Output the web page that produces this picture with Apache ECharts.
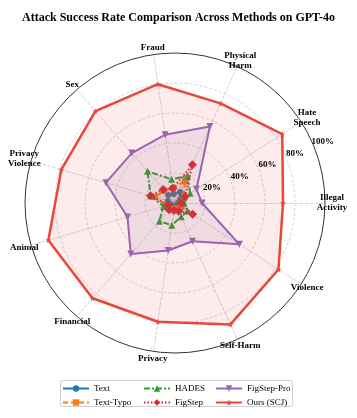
<!DOCTYPE html>
<html>
<head>
<meta charset="utf-8">
<script src="https://cdn.jsdelivr.net/npm/echarts@6/dist/echarts.min.js"></script>
<style>
  html, body { margin: 0; padding: 0; background: #fff; }
  #main { width: 357px; height: 418px; }
</style>
</head>
<body>
<div id="main"></div>
<script>
// axes, counter-clockwise from the right
const categories = ['Illegal\nActivity', 'Hate\nSpeech', 'Physical\nHarm', 'Fraud', 'Sex',
  'Privacy\nViolence', 'Animal', 'Financial', 'Privacy', 'Self-Harm', 'Violence']
const methods = ['Text', 'Text-Typo', 'HADES', 'FigStep', 'FigStep-Pro', 'Ours (SCJ)']

// attack success rate (%)
const textASR = [2, 4, 8, 6, 7, 5, 3, 3, 2, 2, 3]
const textTypoASR = [4, 7, 16, 10, 11, 14, 6, 5, 4, 4, 5]
const hadesASR = [6, 12, 20, 16, 28, 17, 8, 16, 15, 10, 10]
const figStepASR = [4, 8, 28, 10, 12, 17, 5, 6, 5, 6, 14]
const figStepProASR = [18, 17, 56, 46, 44, 48, 33, 45, 32, 28, 51]
const oursASR = [72, 85, 73, 80, 81, 79, 88, 84, 80, 89, 82]

const values = [textASR, textTypoASR, hadesASR, figStepASR, figStepProASR, oursASR]

const FONT = '"Liberation Serif", "DejaVu Serif", serif'
const downTri = 'path://M0,0 L10,0 L5,9 Z'
const star = 'path://M50,0 L61,35 L98,35 L68,57 L79,91 L50,70 L21,91 L32,57 L2,35 L39,35 Z'

// look of each method
const styles = [
  {color: '#1f77b4', type: 'solid', width: 2, symbol: 'circle', size: 6, area: 0.08},
  {color: '#ff7f0e', type: [5, 3], width: 2, symbol: 'rect', size: 6, area: 0.08},
  {color: '#2ca02c', type: [6, 2, 2, 2], width: 2, symbol: 'triangle', size: 7, area: 0.06},
  {color: '#d62728', type: [1.5, 2], width: 2, symbol: 'diamond', size: 9, area: 0.08},
  {color: '#9467bd', type: 'solid', width: 2, symbol: downTri, size: 7, area: 0.12},
  {color: '#e8483c', type: 'solid', width: 2.5, symbol: star, size: 6, area: 0.1}
]

const chart = echarts.init(document.getElementById('main'))

// empty line series only give the legend its line + marker icons
const legendSeries = methods.map((m, i) => ({
  name: m,
  type: 'line',
  data: [],
  symbol: styles[i].symbol,
  symbolSize: styles[i].size,
  itemStyle: {color: styles[i].color},
  lineStyle: {color: styles[i].color, type: styles[i].type, width: styles[i].width}
}))

const radarSeries = methods.map((m, i) => ({
  name: m,
  type: 'radar',
  radarIndex: 0,
  symbol: styles[i].symbol,
  symbolSize: styles[i].size,
  itemStyle: {color: styles[i].color},
  lineStyle: {color: styles[i].color, type: styles[i].type, width: styles[i].width},
  areaStyle: {color: styles[i].color, opacity: styles[i].area},
  data: [{name: m, value: values[i]}],
  z: 2 + i
}))

const legendCol = (names, left) => ({
  orient: 'vertical',
  left: left,
  top: 384,
  padding: 0,
  itemWidth: 26,
  itemHeight: 8,
  itemGap: 5,
  data: names,
  textStyle: {fontFamily: FONT, fontSize: 9, color: '#000'}
})

chart.setOption({
  backgroundColor: '#fff',
  animation: false,
  title: {
    text: 'Attack Success Rate Comparison Across Methods on GPT-4o',
    left: 'center',
    top: 7,
    textStyle: {fontFamily: FONT, fontSize: 12, fontWeight: 'bold', color: '#000'}
  },
  grid: {show: false, left: 0, top: 0, width: 1, height: 1},
  xAxis: {show: false, type: 'value'},
  yAxis: {show: false, type: 'value'},
  radar: {
    center: [175, 203],
    radius: 150,
    startAngle: 0,
    shape: 'circle',
    splitNumber: 5,
    indicator: categories.map(c => ({name: c, min: 0, max: 100})),
    nameGap: 7,
    axisName: {
      fontFamily: FONT, fontSize: 9, fontWeight: 'bold', color: '#000',
      lineHeight: 10, align: 'center', verticalAlign: 'middle'
    },
    axisLine: {lineStyle: {color: '#c8c8c8', type: [3, 2], width: 0.8}},
    splitLine: {lineStyle: {color: ['#c8c8c8', '#c8c8c8', '#c8c8c8', '#c8c8c8', '#c8c8c8', 'transparent'], type: [3, 2], width: 0.8}},
    splitArea: {show: false}
  },
  polar: [
    {center: [175, 203], radius: 150},
    {center: [175, 203], radius: [10, 160]}
  ],
  angleAxis: [
    {
      polarIndex: 0, type: 'value', min: 0, max: 360,
      axisLine: {lineStyle: {color: '#333', width: 1}},
      axisTick: {show: false}, axisLabel: {show: false}, splitLine: {show: false}
    },
    {
      polarIndex: 1, type: 'value', min: 0, max: 360, startAngle: 22.5, show: false
    }
  ],
  radiusAxis: [
    {polarIndex: 0, show: false, min: 0, max: 100},
    {
      polarIndex: 1, min: 0, max: 100, interval: 20, z: 20,
      axisLine: {show: false}, axisTick: {show: false}, splitLine: {show: false},
      axisLabel: {
        margin: 0, align: 'center', verticalAlign: 'middle',
        fontFamily: FONT, fontSize: 9, fontWeight: 'bold', color: '#000',
        formatter: v => v === 0 ? '' : v + '%'
      }
    }
  ],
  legend: [
    legendCol(methods.slice(0, 2), 62),
    legendCol(methods.slice(2, 4), 143),
    legendCol(methods.slice(4, 6), 215)
  ],
  graphic: [{
    type: 'rect',
    shape: {x: 60.5, y: 380.5, width: 232, height: 26, r: 2},
    style: {fill: 'none', stroke: '#d0d0d0', lineWidth: 1},
    z: -1
  }],
  series: legendSeries.concat(radarSeries)
})
</script>
</body>
</html>
